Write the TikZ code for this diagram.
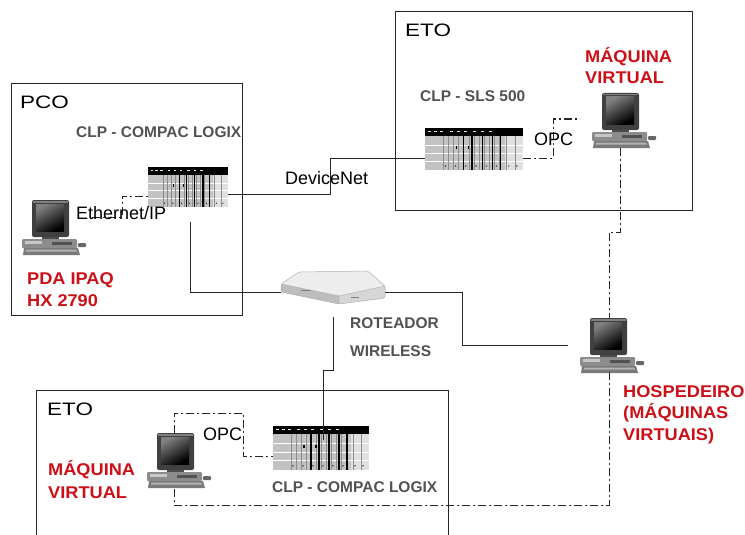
\documentclass[tikz,border=0pt]{standalone}
\usepackage{fontspec}
\setmainfont{Liberation Sans}
\usepackage{graphicx}
\definecolor{lblred}{RGB}{204,16,24}
\definecolor{lblgray}{RGB}{82,82,82}
\newcommand\widetext[2]{\scalebox{#1}[1]{#2}}

\tikzset{
  % desktop computer: monitor, flat case, mouse, keyboard (65 x 55)
  pc/.pic={
    \fill[black!75, rounded corners=2pt] (10,0) rectangle (47,37);
    \fill[black!50] (11,1) rectangle (46,2.5);
    \shade[top color=black!50, bottom color=black, shading angle=30] (14,4) rectangle (42,31);
    \fill[black!70] (20,37) rectangle (37,40);
    \fill[black!45, rounded corners=1pt] (0,39) rectangle (55,48);
    \fill[black!22] (3,41) rectangle (20,43.5);
    \fill[black!68] (30,42) rectangle (50,45);
    \fill[black!60, rounded corners=1pt] (56,43) rectangle (64,47);
    \fill[black!52] (2,48) -- (56,48) -- (58,55) -- (1,55) -- cycle;
    \fill[black!30] (4,49.5) -- (54,49.5) -- (55,51.5) -- (4,51.5) -- cycle;
  },
  % controller rack with I/O modules (96 x 42)
  plcrack/.pic={
    \fill[black!24] (0,0) rectangle (96,42);
    \fill[black!12] (78,8) rectangle (96,42);
    \fill[black] (0,0) rectangle (96,8);
    \foreach \sx in {3,9,15,24,31,38,47,55,63} \fill[white!80!cyan] (\sx,3) rectangle ++(3,1.2);
    \foreach \sy in {17,25,33} \draw[white, line width=0.7pt] (0,\sy) -- (96,\sy);
    \foreach \sx in {18,23,28,33,43,48,53,58,63,68,73,80,88}
      \draw[black!45, line width=0.5pt] (\sx,8) -- (\sx,42);
    \foreach \sx in {38,46,56,66,74} \draw[black, line width=1.3pt] (\sx,8) -- (\sx,42);
    \foreach \sx in {20,30,40,50,60,70,82,90} \fill[black] (\sx,38) circle (0.7pt);
    \fill[black] (30,18) rectangle ++(1.5,3);
    \fill[black] (42,18) rectangle ++(1.5,3);
  },
  % wireless router seen from above (104 x 36)
  routerbox/.pic={
    \fill[black!7] (0,14) -- (18,2) -- (87,1) -- (104,16) -- (58,26) -- cycle;
    \fill[black!26] (0,14) -- (58,26) -- (58,34) -- (0,22) -- cycle;
    \fill[black!16] (58,26) -- (104,16) -- (104,28) -- (58,34) -- cycle;
    \draw[black!30, line width=0.5pt, rounded corners=2pt] (0,14) -- (18,2) -- (87,1) -- (104,16) -- (104,28) -- (58,34) -- (0,22) -- cycle;
    \draw[black!30, line width=0.5pt] (0,14) -- (58,26) -- (104,16) (58,26) -- (58,34);
    \fill[black!50] (20,20) rectangle ++(10,1.2);
    \fill[black!50] (70,27) rectangle ++(8,1.2);
  }
}

\begin{document}
\begin{tikzpicture}[x=1pt,y=-1pt,
  frame/.style={draw=black!85, line width=1pt},
  wire/.style={draw=black!85, line width=1pt},
  dashdot/.style={draw=black!85, line width=1pt, dash pattern=on 8pt off 3pt on 2pt off 3pt},
  icon/.style={inner sep=0pt, outer sep=0pt, anchor=north west},
  areatag/.style={inner sep=0pt, anchor=base west, font=\fontsize{18}{18}\selectfont},
  proto/.style={inner sep=0pt, anchor=base west, font=\fontsize{18}{18}\selectfont},
  device/.style={inner sep=0pt, anchor=base west, text=lblgray, font=\fontsize{15.5}{16}\selectfont\bfseries},
  vmtag/.style={inner sep=0pt, anchor=base west, text=lblred, font=\fontsize{17}{17}\selectfont\bfseries},
]
\useasboundingbox (0,0) rectangle (745,535);
\fill[white] (0,0) rectangle (745,535);

% ---- area frames ----
\node[frame, icon, minimum width=231pt, minimum height=231pt] (pco) at (11,84) {};
\node[frame, icon, minimum width=297pt, minimum height=198pt] (etoA) at (395,12) {};
\draw[frame] (36,545) -- (36,390) -- (448,390) -- (448,545);

% ---- equipment ----
\node[icon, minimum width=65pt, minimum height=55pt] (pcA) at (22,200) {};
\pic at (pcA.north west) {pc};
\node[icon, minimum width=65pt, minimum height=55pt] (vmA) at (592,93) {};
\pic at (vmA.north west) {pc};
\node[icon, minimum width=65pt, minimum height=55pt] (host) at (580,318) {};
\pic at (host.north west) {pc};
\node[icon, minimum width=65pt, minimum height=55pt] (vmB) at (147,433) {};
\pic at (vmB.north west) {pc};

\node[icon, minimum width=80pt, minimum height=40pt] (plcA) at (148,167) {};
\pic[xscale=0.833, yscale=0.952] at (plcA.north west) {plcrack};
\node[icon, minimum width=98pt, minimum height=42pt] (plcB) at (425,128) {};
\pic[xscale=1.021] at (plcB.north west) {plcrack};
\node[icon, minimum width=96pt, minimum height=44pt] (plcC) at (273,426) {};
\pic[yscale=1.048] at (plcC.north west) {plcrack};

\node[icon, minimum width=104pt, minimum height=36pt] (router) at (281,270) {};
\pic at (router.north west) {routerbox};

% ---- solid links ----
\draw[wire] ([shift={(0,27)}]plcA.north east) -- ++(102,0) |- ([shift={(0,30)}]plcB.north west);
\draw[wire] ([shift={(42,55)}]plcA.north west) |- ([shift={(0,22)}]router.north west);
\draw[wire] ([shift={(0,22)}]router.north east) -- ++(77,0) |- ([shift={(-12,27)}]host.north west);
\draw[wire] ([shift={(52,47)}]router.north west) -- ++(0,53) -| ([shift={(50,14)}]plcC.north west);

% ---- OPC / virtual links ----
\draw[dashdot] ([shift={(70,17)}]pcA.north west) -- ++(30,0) |- ([shift={(0,29)}]plcA.north west);
\draw[dashdot] ([shift={(0,30)}]plcB.north east) -- ++(30,0) |- ([shift={(-12,26)}]vmA.north west);
\draw[dashdot] ([shift={(28,55)}]vmA.north west) -- ++(0,84) -| ([shift={(29,0)}]host.north west);
\draw[dashdot] ([shift={(29,54)}]host.north west) -- ++(0,133) -| ([shift={(27,54)}]vmB.north west);
\draw[dashdot] ([shift={(27,0)}]vmB.north west) -- ++(0,-20) -- ++(69,0) |- ([shift={(0,30)}]plcC.north west);

% ---- labels ----
\node[areatag] (tPCO) at (20,108) {\widetext{1.25}{PCO}};
\node[areatag] (tETOa) at (405,37) {\widetext{1.25}{ETO}};
\node[areatag] (tETOb) at (47,415) {\widetext{1.25}{ETO}};

\node[device] (tplcA) at (76,138) {CLP - COMPAC LOGIX};
\node[device] (tplcB) at (420,102) {CLP - SLS 500};
\node[device] (tplcC) at (272,492) {CLP - COMPAC LOGIX};
\node[device] (trouter1) at (350,328) {ROTEADOR};
\node[device] (trouter2) at (350,356) {WIRELESS};

\node[proto] (teth) at (76,219) {Ethernet/IP};
\node[proto] (tdnet) at (285,184) {DeviceNet};
\node[proto] (topcA) at (534,145) {OPC};
\node[proto] (topcB) at (203,440) {OPC};

\node[vmtag] (tvmA1) at (585,63) {\widetext{1.07}{MÁQUINA}};
\node[vmtag] (tvmA2) at (585,84) {\widetext{1.07}{VIRTUAL}};
\node[vmtag] (tpda1) at (27,284) {\widetext{1.07}{PDA IPAQ}};
\node[vmtag] (tpda2) at (27,306) {\widetext{1.07}{HX 2790}};
\node[vmtag] (thost1) at (623,397) {\widetext{1.07}{HOSPEDEIRO}};
\node[vmtag] (thost2) at (623,418) {\widetext{1.07}{(MÁQUINAS}};
\node[vmtag] (thost3) at (623,440) {\widetext{1.07}{VIRTUAIS)}};
\node[vmtag] (tvmB1) at (48,475) {\widetext{1.07}{MÁQUINA}};
\node[vmtag] (tvmB2) at (48,498) {\widetext{1.07}{VIRTUAL}};
\end{tikzpicture}
\end{document}
